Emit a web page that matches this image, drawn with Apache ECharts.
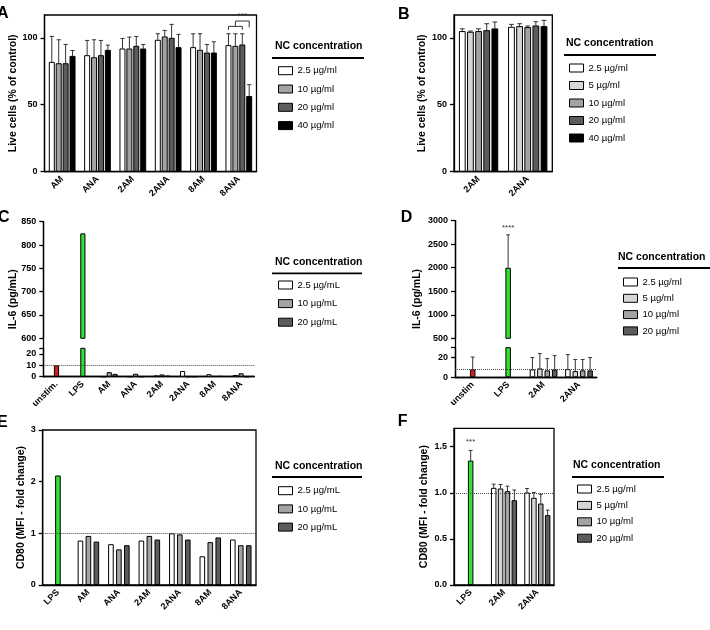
<!DOCTYPE html>
<html>
<head>
<meta charset="utf-8">
<title>Viability, IL-6 and CD80</title>
<script src="https://cdn.jsdelivr.net/npm/echarts@6.0.0/dist/echarts.min.js"></script>
<style>
  html, body { margin: 0; padding: 0; background: #fff; }
  #main { width: 710px; height: 630px; }
</style>
</head>
<body>
<div id="main"></div>
<script>
// ---- A: live cells, 4 concentrations ----
var catsA = ['AM', 'ANA', '2AM', '2ANA', '8AM', '8ANA'];
var concA = ['2.5 µg/ml', '10 µg/ml', '20 µg/ml', '40 µg/ml'];
var meanA = [
    [82, 87, 92, 98.5, 93, 94.5],
    [81, 85.5, 92, 101, 91, 94],
    [81, 87, 94, 100, 89, 95],
    [86.5, 91, 92, 93, 89, 56.5]
];
var sdA = [
    [19, 11, 7.5, 4.5, 10, 8.5],
    [17.5, 13, 8.5, 4.5, 12, 9],
    [14, 11, 7, 10, 6, 8],
    [4, 3.5, 3, 9.5, 8, 8.5]
];
var yTicksA = [0, 50, 100];
var sigA = [[5, 106, 108.5, 112.5, '***']]; // 8ANA: 2.5-20 vs 40

// ---- B: live cells, 5 concentrations ----
var catsB = ['2AM', '2ANA'];
var concB = ['2.5 µg/ml', '5 µg/ml', '10 µg/ml', '20 µg/ml', '40 µg/ml'];
var meanB = [[105, 108.2], [104.5, 108.7], [105, 108], [105.7, 109.2], [107, 108.7]];
var sdB = [[1.7, 1.8], [0.5, 1.8], [1.7, 0.8], [4.8, 2.8], [4.8, 4.3]];
var yTicksB = [0, 50, 100];

// ---- C: IL-6 ----
var catsC = ['unstim.', 'LPS', 'AM', 'ANA', '2AM', '2ANA', '8AM', '8ANA'];
var concC = ['2.5 µg/mL', '10 µg/mL', '20 µg/mL'];
var ctrlC = [10, 825, null, null, null, null, null, null];
var meanC = [
    [null, null, 0, 0, 1, 5, 2.2, 1.5],
    [null, null, 4, 2.6, 2, 0, 0.4, 3],
    [null, null, 2.5, 0, 0.8, 0, 0.5, 0]
];
var yTicksCHigh = [600, 650, 700, 750, 800, 850];
var yTicksCLow = [0, 10, 20];

// ---- D: IL-6 ----
var catsD = ['unstim', 'LPS', '2AM', '2ANA'];
var concD = ['2.5 µg/ml', '5 µg/ml', '10 µg/ml', '20 µg/ml'];
var ctrlD = [8, 2000, null, null];
var ctrlSdD = [12.5, 700, null, null];
var meanD = [[null, null, 8, 8.3], [null, null, 9, 6.3], [null, null, 7, 7], [null, null, 8, 7]];
var sdD = [[null, null, 12, 14.7], [null, null, 15, 11.7], [null, null, 12, 11], [null, null, 14, 13]];
var yTicksDHigh = [500, 1000, 1500, 2000, 2500, 3000];
var yTicksDLow = [0, 20];
var sigD = [[1, 2850, '****']];

// ---- E: CD80 ----
var catsE = ['LPS', 'AM', 'ANA', '2AM', '2ANA', '8AM', '8ANA'];
var concE = ['2.5 µg/mL', '10 µg/mL', '20 µg/mL'];
var ctrlE = [2.12, null, null, null, null, null, null];
var meanE = [
    [null, 0.86, 0.79, 0.86, 1.0, 0.555, 0.88],
    [null, 0.95, 0.69, 0.95, 0.98, 0.83, 0.77],
    [null, 0.84, 0.77, 0.88, 0.88, 0.92, 0.77]
];
var yTicksE = [0, 1, 2, 3];

// ---- F: CD80 ----
var catsF = ['LPS', '2AM', '2ANA'];
var concF = ['2.5 µg/ml', '5 µg/ml', '10 µg/ml', '20 µg/ml'];
var ctrlF = [1.35, null, null];
var ctrlSdF = [0.11, null, null];
var meanF = [[null, 1.054, 1.004], [null, 1.047, 0.946], [null, 1.018, 0.884], [null, 0.92, 0.758]];
var sdF = [[null, 0.04, 0.043], [null, 0.043, 0.058], [null, 0.054, 0.1], [null, 0.11, 0.054]];
var yTicksF = [0, 0.5, 1, 1.5];
var sigF = [[0, 1.55, '***']];

var FONT = '"Liberation Sans", Arial, sans-serif';
var fills = { '2.5': '#ffffff', '5': '#d6d6d6', '10': '#a3a3a3', '20': '#5c5c5c', '40': '#000000' };
var ctrlFill = { 'unstim.': '#d42020', 'unstim': '#d42020', 'LPS': '#33e033' };
var axisLine = { color: '#000', width: 1.3 };

var option = {
    animation: false,
    backgroundColor: '#fff',
    title: [], legend: [], grid: [], xAxis: [], yAxis: [], series: [], graphic: []
};

function fillOf(name) { return fills[name.split(' ')[0]]; }

function catAxis(gi, cats, show) {
    return {
        type: 'category', gridIndex: gi, data: cats, show: show,
        axisLine: { lineStyle: axisLine },
        axisTick: { alignWithLabel: true, length: 4, lineStyle: axisLine },
        axisLabel: { interval: 0, rotate: 45, color: '#000', fontFamily: FONT, fontWeight: 'bold', fontSize: 9, margin: 6 }
    };
}

function valAxis(gi, seg) {
    var ticks = seg.ticks;
    return {
        type: 'value', gridIndex: gi, min: ticks[0], max: seg.max, interval: ticks[1] - ticks[0],
        axisLine: { show: true, lineStyle: axisLine },
        axisTick: { show: true, length: 4, lineStyle: axisLine, customValues: seg.cap ? ticks.concat([seg.max]) : ticks },
        axisLabel: {
            color: '#000', fontFamily: FONT, fontWeight: 'bold', fontSize: 9, margin: 7, customValues: ticks,
            formatter: function (v) {
                if (ticks.indexOf(v) < 0) return '';
                return seg.fmt ? seg.fmt(v) : String(v);
            }
        },
        splitLine: { show: false }
    };
}

// error bars drawn in the slot of bar k (of n) through the axis scale
function errSeries(xi, yi, p, k, n, rows) {
    return {
        type: 'custom', xAxisIndex: xi, yAxisIndex: yi, silent: true, clip: true, data: rows,
        renderItem: function (params, api) {
            var bw = api.size([1, 0])[0] * p.pct / 100;
            var shift = (k - (n - 1) / 2) * bw * (1 + p.gap);
            var base = api.coord([api.value(0), api.value(1)]);
            var top = api.coord([api.value(0), api.value(1) + api.value(2)]);
            var x = base[0] + shift, cap = bw * 0.35;
            var st = { stroke: '#333', lineWidth: 1 };
            return { type: 'group', children: [
                { type: 'line', shape: { x1: x, y1: base[1], x2: x, y2: top[1] }, style: st },
                { type: 'line', shape: { x1: x - cap, y1: top[1], x2: x + cap, y2: top[1] }, style: st }
            ] };
        }
    };
}

function textSeries(xi, yi, rows) {
    return {
        type: 'custom', xAxisIndex: xi, yAxisIndex: yi, silent: true, data: rows,
        renderItem: function (params, api) {
            var pt = api.coord([api.value(0), api.value(1)]);
            return { type: 'text', x: pt[0], y: pt[1], style: {
                text: rows[params.dataIndex][2], fill: '#333', fontSize: 8, fontFamily: FONT,
                align: 'center', verticalAlign: 'middle', textAlign: 'center', textVerticalAlign: 'middle'
            } };
        }
    };
}

function bracketSeries(xi, yi, p, rows) {
    return {
        type: 'custom', xAxisIndex: xi, yAxisIndex: yi, silent: true, data: rows,
        renderItem: function (params, api) {
            var n = p.means.length;
            var step = api.size([1, 0])[0] * p.pct / 100 * (1 + p.gap);
            var c = api.coord([api.value(0), 0])[0];
            var bx = function (k) { return c + (k - (n - 1) / 2) * step; };
            var y = function (v) { return api.coord([api.value(0), v])[1]; };
            var yLeg = y(api.value(1)), yLow = y(api.value(2)), yTop = y(api.value(3));
            var st = { stroke: '#333', lineWidth: 1, fill: null };
            return { type: 'group', children: [
                { type: 'polyline', shape: { points: [[bx(0), yLeg], [bx(0), yLow], [bx(2), yLow], [bx(2), yLeg]] }, style: st },
                { type: 'polyline', shape: { points: [[bx(1), yLow], [bx(1), yTop], [bx(3), yTop], [bx(3), yLow + 1]] }, style: st },
                { type: 'text', x: (bx(1) + bx(3)) / 2, y: yTop - 1, style: {
                    text: rows[params.dataIndex][4], fill: '#333', fontSize: 8, fontFamily: FONT,
                    align: 'center', verticalAlign: 'bottom', textAlign: 'center', textVerticalAlign: 'bottom' } }
            ] };
        }
    };
}

function rowsOf(means, sds) {
    var out = [];
    means.forEach(function (m, i) {
        if (m != null && sds && sds[i] != null) out.push([i, m, sds[i]]);
    });
    return out;
}

function buildPanel(p) {
    var n = p.means.length;
    var nameStyle = { color: '#000', fontFamily: FONT, fontWeight: 'bold', fontSize: 10.5 };
    p.segs.forEach(function (seg, si) {
        var last = si === p.segs.length - 1;
        var gi = option.grid.push({
            left: p.left, width: p.width, top: seg.top, height: seg.height,
            show: !p.frame, borderColor: '#000', borderWidth: 1.3
        }) - 1;
        var xi = option.xAxis.push(catAxis(gi, p.cats, last)) - 1;
        var xc = option.xAxis.push({ type: 'category', gridIndex: gi, data: p.cats, show: false }) - 1;
        var ya = valAxis(gi, seg);
        if (!p.frame) {
            ya.name = p.yName; ya.nameLocation = 'middle'; ya.nameGap = p.nameGap; ya.nameTextStyle = nameStyle;
        }
        var yi = option.yAxis.push(ya) - 1;

        p.means.forEach(function (row, k) {
            var s = {
                type: 'bar', name: p.names[k], xAxisIndex: xi, yAxisIndex: yi, data: row,
                barWidth: p.pct + '%', barGap: (p.gap * 100) + '%', silent: true,
                itemStyle: { color: fillOf(p.names[k]), borderColor: '#000', borderWidth: 1 }
            };
            if (k === 0 && last && p.dotted != null) {
                s.markLine = {
                    silent: true, symbol: ['none', 'none'], label: { show: false },
                    lineStyle: { type: 'dotted', color: '#444', width: 1 },
                    data: [{ yAxis: p.dotted }]
                };
            }
            option.series.push(s);
        });
        if (p.ctrl) {
            option.series.push({
                type: 'bar', name: 'control', xAxisIndex: xc, yAxisIndex: yi, barWidth: p.pct + '%', silent: true,
                itemStyle: { borderColor: '#000', borderWidth: 1 },
                data: p.ctrl.map(function (v, i) {
                    return v == null ? null : { value: v, itemStyle: { color: ctrlFill[p.cats[i]] } };
                })
            });
        }
        if (p.sds) {
            p.means.forEach(function (row, k) {
                option.series.push(errSeries(xi, yi, p, k, n, rowsOf(row, p.sds[k])));
            });
        }
        if (p.ctrlSd) option.series.push(errSeries(xi, yi, p, 0, 1, rowsOf(p.ctrl, p.ctrlSd)));
        if (p.stars && si === 0) option.series.push(textSeries(xi, yi, p.stars));
        if (p.bracket) option.series.push(bracketSeries(xi, yi, p, p.bracket));
    });

    // outer frame for broken axes: top and right lines, y title
    if (p.frame) {
        var fg = option.grid.push({ left: p.left, width: p.width, top: p.frame.top, height: p.frame.height, show: false }) - 1;
        var off = { show: false };
        option.xAxis.push({ type: 'value', gridIndex: fg, position: 'top', min: 0, max: 1,
            axisLine: { show: true, lineStyle: axisLine }, axisTick: off, axisLabel: off, splitLine: off });
        option.yAxis.push({ type: 'value', gridIndex: fg, position: 'right', min: 0, max: 1,
            axisLine: { show: true, lineStyle: axisLine }, axisTick: off, axisLabel: off, splitLine: off });
        option.yAxis.push({ type: 'value', gridIndex: fg, position: 'left', min: 0, max: 1,
            axisLine: off, axisTick: off, axisLabel: off, splitLine: off,
            name: p.yName, nameLocation: 'middle', nameGap: p.nameGap, nameTextStyle: nameStyle });
    }

    // legend block
    var lg = p.legend;
    option.title.push({ text: 'NC concentration', left: lg.titleX, top: lg.titleY, padding: 0,
        textStyle: { fontFamily: FONT, fontWeight: 'bold', fontSize: 10.5, color: '#000', lineHeight: 10.5 } });
    option.graphic.push({ type: 'line', silent: true,
        shape: { x1: lg.lineX1, y1: lg.lineY, x2: lg.lineX2, y2: lg.lineY },
        style: { stroke: '#000', lineWidth: 1.8 } });
    option.legend.push({
        data: p.names, left: lg.x, top: lg.y, orient: 'vertical', padding: 0,
        itemWidth: 14, itemHeight: 8, itemGap: lg.gap, selectedMode: false, icon: 'rect',
        itemStyle: { borderColor: '#000', borderWidth: 1 },
        textStyle: { fontFamily: FONT, fontSize: 9.5, color: '#000', lineHeight: 12 }
    });
    option.title.push({ text: p.letter, left: p.letterX, top: p.letterY, padding: 0,
        textStyle: { fontFamily: FONT, fontWeight: 'bold', fontSize: 16, color: '#000', lineHeight: 16 } });
}

buildPanel({
    letter: 'A', letterX: -3, letterY: 6,
    cats: catsA, names: concA, means: meanA, sds: sdA, bracket: sigA,
    left: 44.5, width: 212, pct: 17, gap: 0.15,
    segs: [{ top: 15, height: 156.7, max: 117, ticks: yTicksA }],
    yName: 'Live cells (% of control)', nameGap: 26,
    legend: { titleX: 275, titleY: 41, lineX1: 272, lineX2: 364, lineY: 58, x: 278, y: 64.7, gap: 6.3 }
});

buildPanel({
    letter: 'B', letterX: 398, letterY: 7,
    cats: catsB, names: concB, means: meanB, sds: sdB,
    left: 454, width: 98.3, pct: 13.8, gap: 0.2,
    segs: [{ top: 15, height: 156.7, max: 117, ticks: yTicksB }],
    yName: 'Live cells (% of control)', nameGap: 25,
    legend: { titleX: 566, titleY: 38.3, lineX1: 564, lineX2: 656, lineY: 55, x: 569, y: 62, gap: 5.5 }
});

buildPanel({
    letter: 'C', letterX: -2, letterY: 210,
    cats: catsC, names: concC, means: meanC, ctrl: ctrlC, dotted: 10,
    left: 43.3, width: 211, pct: 19.6, gap: 0.12,
    frame: { top: 221.7, height: 155 },
    segs: [
        { top: 221.7, height: 116.6, max: 850, ticks: yTicksCHigh },
        { top: 348.3, height: 28.4, max: 25, ticks: yTicksCLow, cap: true }
    ],
    yName: 'IL-6 (pg/mL)', nameGap: 25,
    legend: { titleX: 275, titleY: 256.5, lineX1: 272, lineX2: 362, lineY: 273.3, x: 278, y: 279, gap: 6.6 }
});

buildPanel({
    letter: 'D', letterX: 400.7, letterY: 210,
    cats: catsD, names: concD, means: meanD, sds: sdD, ctrl: ctrlD, ctrlSd: ctrlSdD, dotted: 8, stars: sigD,
    left: 455, width: 141.7, pct: 15.5, gap: 0.35,
    frame: { top: 220.7, height: 156.6 },
    segs: [
        { top: 220.7, height: 117.6, max: 3000, ticks: yTicksDHigh },
        { top: 347.7, height: 29.6, max: 30, ticks: yTicksDLow, cap: true }
    ],
    yName: 'IL-6 (pg/mL)', nameGap: 32,
    legend: { titleX: 618, titleY: 252.3, lineX1: 618, lineX2: 710, lineY: 268, x: 623, y: 276, gap: 4.3 }
});

buildPanel({
    letter: 'E', letterX: -3, letterY: 415,
    cats: catsE, names: concE, means: meanE, ctrl: ctrlE, dotted: 1,
    left: 42.7, width: 213.3, pct: 18.4, gap: 0.42,
    segs: [{ top: 430, height: 155, max: 3, ticks: yTicksE }],
    yName: 'CD80 (MFI - fold change)', nameGap: 14.5,
    legend: { titleX: 275, titleY: 461.3, lineX1: 272, lineX2: 362, lineY: 477, x: 278, y: 484.7, gap: 6.2 }
});

buildPanel({
    letter: 'F', letterX: 397.7, letterY: 413.7,
    cats: catsF, names: concF, means: meanF, sds: sdF, ctrl: ctrlF, ctrlSd: ctrlSdF, dotted: 1, stars: sigF,
    left: 454, width: 100, pct: 16.5, gap: 0.25,
    segs: [{ top: 428.3, height: 156.7, max: 1.7, ticks: yTicksF, fmt: function (v) { return v.toFixed(1); } }],
    yName: 'CD80 (MFI - fold change)', nameGap: 24,
    legend: { titleX: 573, titleY: 460.3, lineX1: 572, lineX2: 664, lineY: 477, x: 577, y: 483, gap: 4.4 }
});

var chart = echarts.init(document.getElementById('main'), null, { renderer: 'canvas' });
chart.setOption(option);
</script>
</body>
</html>
